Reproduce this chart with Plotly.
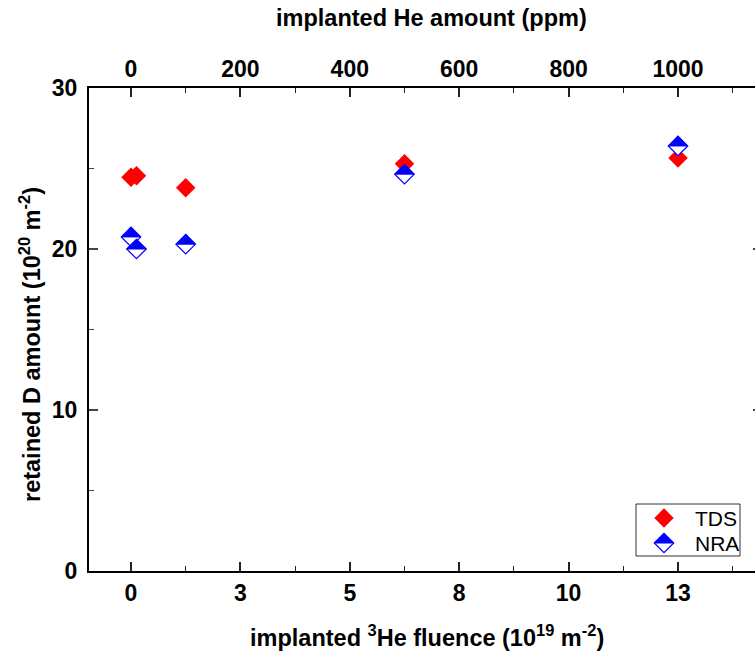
import plotly.graph_objects as go

# ---------------- data ----------------
fluence_tds = [0, 0.125, 1.25, 6.25, 12.5]          # 10^19 m^-2
d_tds = [24.45, 24.55, 23.8, 25.3, 25.65]            # 10^20 m^-2
fluence_nra = [0, 0.125, 1.25, 6.25, 12.5]
d_nra = [20.75, 20.0, 20.3, 24.65, 26.4]

bottom_tickvals = [0, 2.5, 5, 7.5, 10, 12.5]
bottom_ticktext = ["0", "3", "5", "8", "10", "13"]
top_tickvals = [0, 200, 400, 600, 800, 1000]
top_ticktext = ["0", "200", "400", "600", "800", "1000"]
y_tickvals = [0, 10, 20, 30]
ppm_per_fluence = 80.0  # 12.5e19 m^-2 -> 1000 ppm

# ---------------- layout constants ----------------
W, H = 775, 661
ML, MR, MT, MB = 89, 13, 88, 90
PW = W - ML - MR
PH = H - MT - MB
xr = [-0.96, 14.42]
FONT = "Liberation Sans, Arial, sans-serif"
RED = "#ff0000"
BLUE = "#0000ff"
RD = 9.75  # half diagonal of diamond in px


def px2paper_x(px):
    return (px - ML) / PW


def px2paper_y(py):
    return (H - MB - py) / PH


fig = go.Figure()

fig.add_trace(go.Scatter(
    x=fluence_tds, y=d_tds, mode="markers", name="TDS",
    marker=dict(symbol="diamond", size=15, color=RED, line=dict(width=0)),
    showlegend=False,
))
fig.add_trace(go.Scatter(
    x=fluence_nra, y=d_nra, mode="markers", name="NRA",
    marker=dict(symbol="diamond", size=15, color="white", line=dict(width=1.2, color=BLUE)),
    showlegend=False,
))
# invisible trace carrying the top (ppm) axis
fig.add_trace(go.Scatter(
    x=[f * ppm_per_fluence for f in fluence_tds], y=d_tds, xaxis="x2", yaxis="y",
    mode="markers", marker=dict(opacity=0), hoverinfo="skip", showlegend=False,
))

shapes = []
half_path = f"M {-RD},0 L 0,{RD} L {RD},0 Z"
full_path = f"M {-RD},0 L 0,{RD} L {RD},0 L 0,{-RD} Z"
for xv, yv in zip(fluence_nra, d_nra):
    shapes.append(dict(
        type="path", xref="x", yref="y", xsizemode="pixel", ysizemode="pixel",
        xanchor=xv, yanchor=yv, path=half_path,
        fillcolor=BLUE, line=dict(width=1, color=BLUE), layer="above",
    ))

# manual legend
shapes.append(dict(type="rect", xref="paper", yref="paper",
                   x0=px2paper_x(636), x1=px2paper_x(740),
                   y0=px2paper_y(556), y1=px2paper_y(504),
                   line=dict(color="#333333", width=1), fillcolor="white", layer="above"))
lx = px2paper_x(664)
ly_tds = px2paper_y(518)
ly_nra = px2paper_y(543)
shapes.append(dict(type="path", xref="paper", yref="paper", xsizemode="pixel", ysizemode="pixel",
                   xanchor=lx, yanchor=ly_tds, path=full_path, fillcolor=RED,
                   line=dict(width=0), layer="above"))
shapes.append(dict(type="path", xref="paper", yref="paper", xsizemode="pixel", ysizemode="pixel",
                   xanchor=lx, yanchor=ly_nra, path=full_path, fillcolor="white",
                   line=dict(width=1.2, color=BLUE), layer="above"))
shapes.append(dict(type="path", xref="paper", yref="paper", xsizemode="pixel", ysizemode="pixel",
                   xanchor=lx, yanchor=ly_nra, path=half_path, fillcolor=BLUE,
                   line=dict(width=1, color=BLUE), layer="above"))

TITLE_SIZE = 23.5
annotations = [
    dict(text="TDS", x=px2paper_x(693), y=ly_tds, xref="paper", yref="paper",
         xanchor="left", yanchor="middle", showarrow=False,
         font=dict(family=FONT, size=21, color="black")),
    dict(text="NRA", x=px2paper_x(693), y=ly_nra, xref="paper", yref="paper",
         xanchor="left", yanchor="middle", showarrow=False,
         font=dict(family=FONT, size=21, color="black")),
    dict(text="<b>implanted He amount (ppm)</b>", x=px2paper_x(431.5), y=px2paper_y(18),
         xref="paper", yref="paper", xanchor="center", yanchor="middle", showarrow=False,
         font=dict(family=FONT, size=TITLE_SIZE, color="black")),
    dict(text="<b>implanted <sup>3</sup>He fluence (10<sup>19</sup> m<sup>-2</sup>)</b>",
         x=px2paper_x(427), y=px2paper_y(636),
         xref="paper", yref="paper", xanchor="center", yanchor="middle", showarrow=False,
         font=dict(family=FONT, size=TITLE_SIZE, color="black")),
    dict(text="<b>retained D amount (10<sup>20</sup> m<sup>-2</sup>)</b>",
         x=px2paper_x(30), y=px2paper_y(345), textangle=-90,
         xref="paper", yref="paper", xanchor="center", yanchor="middle", showarrow=False,
         font=dict(family=FONT, size=TITLE_SIZE, color="black")),
]

tickfont = dict(family=FONT, size=23, color="black", weight="bold")

fig.update_layout(
    width=W, height=H,
    margin=dict(l=ML, r=MR, t=MT, b=MB, pad=0),
    paper_bgcolor="white", plot_bgcolor="white",
    showlegend=False,
    shapes=shapes,
    annotations=annotations,
    xaxis=dict(
        range=xr, tickmode="array", tickvals=bottom_tickvals, ticktext=bottom_ticktext,
        ticks="inside", ticklen=9, tickwidth=1.5, tickcolor="#222222",
        minor=dict(dtick=1.25, tick0=0, ticks="inside", ticklen=5, tickwidth=1.2, tickcolor="#222222"),
        showline=True, linecolor="black", linewidth=2, mirror=False,
        showgrid=False, zeroline=False, tickfont=tickfont, ticklabelstandoff=0,
    ),
    xaxis2=dict(
        overlaying="x", side="top", anchor="y",
        range=[xr[0] * ppm_per_fluence, xr[1] * ppm_per_fluence],
        tickmode="array", tickvals=top_tickvals, ticktext=top_ticktext,
        ticks="inside", ticklen=9, tickwidth=1.5, tickcolor="#222222",
        minor=dict(dtick=100, tick0=0, ticks="inside", ticklen=5, tickwidth=1.2, tickcolor="#222222"),
        showline=True, linecolor="black", linewidth=2,
        showgrid=False, zeroline=False, tickfont=tickfont, ticklabelstandoff=0,
    ),
    yaxis=dict(
        range=[0, 30], tickmode="array", tickvals=y_tickvals,
        ticks="inside", ticklen=9, tickwidth=1.5, tickcolor="#444444",
        minor=dict(dtick=5, tick0=0, ticks="inside", ticklen=5, tickwidth=1.2, tickcolor="#444444"),
        showline=True, linecolor="black", linewidth=2, mirror="ticks",
        showgrid=False, zeroline=False, tickfont=tickfont, ticklabelstandoff=5,
    ),
)

fig.write_html("out.html", config={"displayModeBar": False},
               post_script="document.body.style.margin='0';document.body.style.overflow='hidden';")
